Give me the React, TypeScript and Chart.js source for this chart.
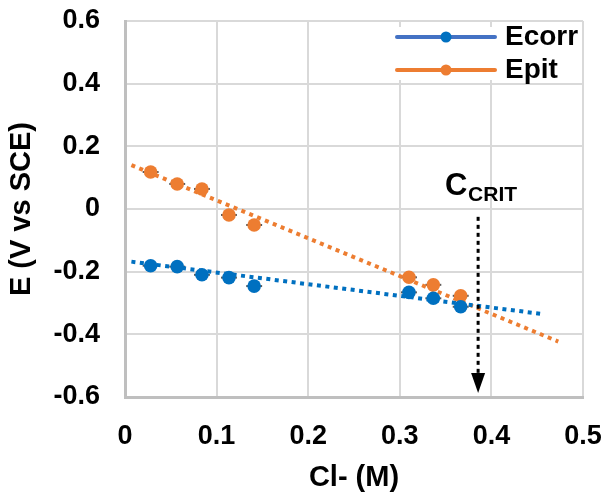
import React, { useEffect, useRef } from "react";
import { Chart, registerables } from "chart.js";

Chart.register(...registerables);

// ---- data ----
const clX = [0.028, 0.057, 0.084, 0.1135, 0.141, 0.31, 0.3366, 0.3665];
const ecorr = [-0.181, -0.184, -0.21, -0.219, -0.246, -0.266, -0.285, -0.312];
const epit = [0.118, 0.08, 0.064, -0.019, -0.051, -0.218, -0.242, -0.277];
const ecorrTrendX = [0.007, 0.455];
const ecorrTrendY = [-0.168, -0.335];
const epitTrendX = [0.007, 0.473];
const epitTrendY = [0.14, -0.423];
const xErr = [0.0087, 0.0087, 0.0087, 0.0087, 0.0087, 0.0087, 0.0087, 0.0087];
const xTicks = [0, 0.1, 0.2, 0.3, 0.4, 0.5];
const yTicks = [-0.6, -0.4, -0.2, 0, 0.2, 0.4, 0.6];
const critX = 0.3855;
const arrowFrom = -0.025;
const arrowTo = -0.587;
const seriesNames = ["Ecorr", "Epit"];

const FAMILY = '"Liberation Sans", Arial, Helvetica, sans-serif';
const BLUE = "#0070C0";
const BLUE_LINE = "#4472C4";
const ORANGE = "#ED7D31";

const fmt = (v: number) =>
  Math.abs(v) < 1e-9 ? "0" : (Math.round(v * 10) / 10).toFixed(1);

const pts = (xs: number[], ys: number[]) => xs.map((x, i) => ({ x, y: ys[i] }));

export default function App() {
  const ref = useRef<HTMLCanvasElement>(null);

  useEffect(() => {
    const canvas = ref.current!;

    const errorBars = {
      id: "errorBars",
      beforeDatasetsDraw(chart: any) {
        const { ctx, scales } = chart;
        const x = scales.x;
        const y = scales.y;
        ctx.save();
        ctx.strokeStyle = "#595959";
        ctx.lineWidth = 2;
        [ecorr, epit].forEach((series) =>
          series.forEach((v, i) => {
            const py = y.getPixelForValue(v);
            ctx.beginPath();
            ctx.moveTo(x.getPixelForValue(clX[i] - xErr[i]), py);
            ctx.lineTo(x.getPixelForValue(clX[i] + xErr[i]), py);
            ctx.stroke();
          })
        );
        ctx.restore();
      },
    };

    const annotation = {
      id: "critAnnotation",
      afterDatasetsDraw(chart: any) {
        const { ctx, scales } = chart;
        const cx = scales.x.getPixelForValue(critX);
        const yTop = scales.y.getPixelForValue(arrowFrom);
        const yTip = scales.y.getPixelForValue(arrowTo);
        const headLen = 20;
        const headHalf = 7;
        ctx.save();
        ctx.strokeStyle = "#000";
        ctx.fillStyle = "#000";
        ctx.lineWidth = 3;
        ctx.setLineDash([4, 4]);
        ctx.beginPath();
        ctx.moveTo(cx, yTop);
        ctx.lineTo(cx, yTip - headLen);
        ctx.stroke();
        ctx.setLineDash([]);
        ctx.beginPath();
        ctx.moveTo(cx - headHalf, yTip - headLen);
        ctx.lineTo(cx + headHalf, yTip - headLen);
        ctx.lineTo(cx, yTip);
        ctx.closePath();
        ctx.fill();
        ctx.textBaseline = "alphabetic";
        ctx.textAlign = "left";
        ctx.font = `bold 31px ${FAMILY}`;
        ctx.fillText("C", cx - 33, yTop - 22);
        ctx.font = `bold 21px ${FAMILY}`;
        ctx.fillText("CRIT", cx - 10, yTop - 15.5);
        ctx.restore();
      },
    };

    const legend = {
      id: "customLegend",
      afterDraw(chart: any) {
        const { ctx, chartArea } = chart;
        const right = chartArea.right;
        ctx.save();
        ctx.fillStyle = "#fff";
        ctx.fillRect(right - 193, chartArea.top + 6, 192, 53);
        const rows = [
          { name: seriesNames[0], line: BLUE_LINE, dot: BLUE, y: chartArea.top + 16 },
          { name: seriesNames[1], line: ORANGE, dot: ORANGE, y: chartArea.top + 49 },
        ];
        rows.forEach((r) => {
          ctx.strokeStyle = r.line;
          ctx.lineWidth = 4;
          ctx.lineCap = "round";
          ctx.beginPath();
          ctx.moveTo(right - 186, r.y);
          ctx.lineTo(right - 88, r.y);
          ctx.stroke();
          ctx.fillStyle = r.dot;
          ctx.beginPath();
          ctx.arc(right - 137, r.y, 5.5, 0, Math.PI * 2);
          ctx.fill();
          ctx.fillStyle = "#000";
          ctx.font = `bold 28px ${FAMILY}`;
          ctx.textBaseline = "middle";
          ctx.textAlign = "left";
          ctx.fillText(r.name, right - 78, r.y + 0.5);
        });
        ctx.restore();
      },
    };

    const tickFont = { family: FAMILY, size: 27, weight: "bold" as const };
    const titleFont = { family: FAMILY, size: 29, weight: "bold" as const };

    const chart = new Chart(canvas, {
      type: "scatter",
      data: {
        datasets: [
          {
            label: seriesNames[0],
            data: pts(clX, ecorr),
            backgroundColor: BLUE,
            borderWidth: 0,
            pointRadius: 6.8,
            showLine: false,
            order: 0,
          },
          {
            label: seriesNames[1],
            data: pts(clX, epit),
            backgroundColor: ORANGE,
            borderWidth: 0,
            pointRadius: 6.8,
            showLine: false,
            order: 0,
          },
          {
            label: "Ecorr trend",
            data: pts(ecorrTrendX, ecorrTrendY),
            borderColor: BLUE,
            borderWidth: 4,
            borderDash: [4, 4.5],
            pointRadius: 0,
            showLine: true,
            order: 1,
          },
          {
            label: "Epit trend",
            data: pts(epitTrendX, epitTrendY),
            borderColor: ORANGE,
            borderWidth: 4,
            borderDash: [4, 4.5],
            pointRadius: 0,
            showLine: true,
            order: 1,
          },
        ],
      },
      options: {
        responsive: true,
        maintainAspectRatio: false,
        animation: false,
        layout: { padding: { left: 0, top: 21, right: 23, bottom: 0 } },
        plugins: { legend: { display: false }, tooltip: { enabled: false } },
        scales: {
          x: {
            type: "linear",
            min: 0,
            max: 0.5,
            afterFit: (s: any) => {
              s.height = 99;
              s.paddingLeft = 0;
              s.paddingRight = 0;
            },
            afterBuildTicks: (s: any) => {
              s.ticks = xTicks.map((v) => ({ value: v }));
            },
            ticks: {
              callback: (v: any) => fmt(Number(v)),
              font: tickFont,
              color: "#000",
              padding: 23,
              maxRotation: 0,
              autoSkip: false,
            },
            grid: { color: "#d9d9d9", lineWidth: 2, drawTicks: false },
            border: { color: "#bfbfbf", width: 3 },
            title: {
              display: true,
              text: "Cl- (M)",
              font: titleFont,
              color: "#000",
              padding: { top: 0, bottom: 1 },
            },
          },
          y: {
            type: "linear",
            min: -0.6,
            max: 0.6,
            afterFit: (s: any) => {
              s.width = 125;
              s.paddingTop = 0;
              s.paddingBottom = 0;
            },
            afterBuildTicks: (s: any) => {
              s.ticks = yTicks.map((v) => ({ value: v }));
            },
            ticks: {
              callback: (v: any) => fmt(Number(v)),
              font: tickFont,
              color: "#000",
              padding: 25,
              autoSkip: false,
            },
            grid: { color: "#d9d9d9", lineWidth: 2, drawTicks: false },
            border: { color: "#bfbfbf", width: 3 },
            title: {
              display: true,
              text: "E (V vs SCE)",
              font: titleFont,
              color: "#000",
              padding: { top: 5, bottom: 0 },
            },
          },
        },
      },
      plugins: [errorBars, annotation, legend],
    });

    return () => chart.destroy();
  }, []);

  return (
    <div
      style={{
        position: "fixed",
        left: 0,
        top: 0,
        width: 606,
        height: 496,
        background: "#fff",
      }}
    >
      <canvas ref={ref} />
    </div>
  );
}
